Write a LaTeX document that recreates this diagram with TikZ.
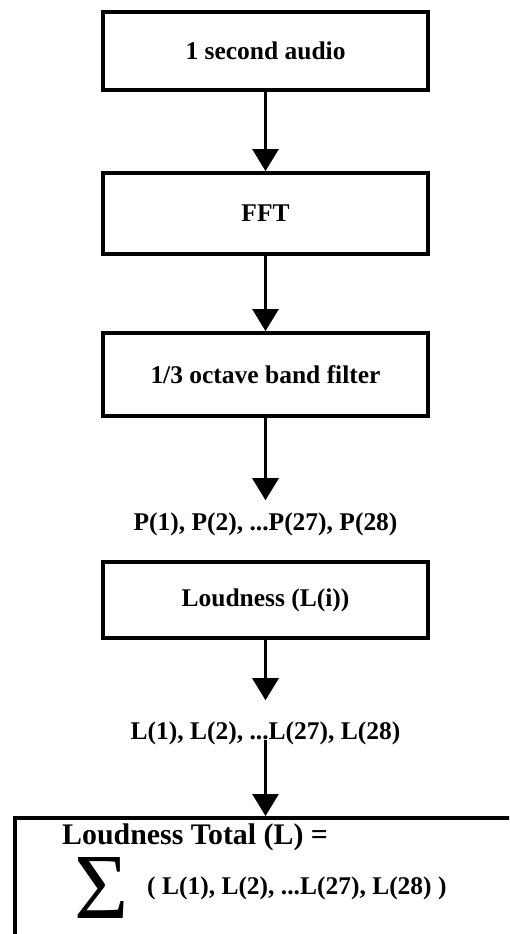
\documentclass[tikz,border=0pt]{standalone}
\usepackage{fontspec}
\setmainfont{Liberation Serif}
\usetikzlibrary{arrows.meta,positioning,calc}

\tikzset{
    block/.style={draw, line width=2.2pt, minimum width=6.5cm,
        font=\bfseries\fontsize{14.5}{17}\selectfont},
    bandtext/.style={font=\bfseries\fontsize{14.5}{17}\selectfont},
    flow/.style={-{Triangle[width=0.52cm,length=0.44cm]}, line width=1.7pt}
}

\begin{document}
\begin{tikzpicture}
    \clip (0,0) rectangle (10.18,-18.68);

    % Processing chain
    \node[block, minimum height=1.56cm] (audio) at (5.31,-1.02) {1 second audio};
    \node[block, minimum height=1.62cm] (fft) at (5.31,-4.27) {FFT};
    \node[block, minimum height=1.66cm] (filter) at (5.31,-7.49) {1/3 octave band filter};

    % Band powers
    \node[bandtext] (plist) at (5.31,-10.48) {P(1), P(2), ...P(27), P(28)};
    \node[block, minimum height=1.52cm] (loud) at (5.31,-12.0) {Loudness (L(i))};

    % Band loudness
    \node[bandtext] (llist) at (5.31,-14.66) {L(1), L(2), ...L(27), L(28)};

    % Total loudness box
    \node[draw, line width=2.2pt, anchor=north west, minimum width=11cm,
        minimum height=3cm] (total) at (0.26,-16.32) {};
    \node[anchor=west, font=\bfseries\fontsize{17}{20}\selectfont] (ttitle)
        at (1.12,-16.74) {Loudness Total (L) =};
    \node[font=\fontsize{53}{53}\selectfont, inner sep=0pt] (sigma) at (2.03,-17.76) {Σ};
    \node[anchor=west, bandtext] (tsum) at (2.82,-17.76) {( L(1), L(2), ...L(27), L(28) )};

    % Arrows
    \draw[flow] (audio) -- (fft);
    \draw[flow] (fft) -- (filter);
    \draw[flow, shorten >=0.12cm] (filter) -- (plist);
    \draw[flow, shorten >=0.3cm] (loud) -- (llist);
    \draw[flow] ([yshift=-4pt]llist.center) -- (llist |- total.north);
\end{tikzpicture}
\end{document}
